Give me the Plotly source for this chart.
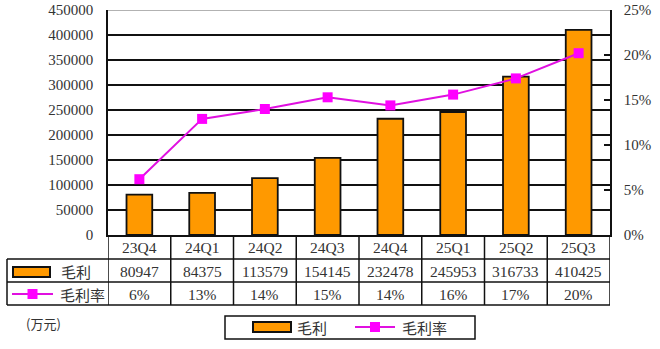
import plotly.graph_objects as go

# Quarterly gross profit (万元) and gross margin (%)
quarters = ["23Q4", "24Q1", "24Q2", "24Q3", "24Q4", "25Q1", "25Q2", "25Q3"]
gross_profit = [80947, 84375, 113579, 154145, 232478, 245953, 316733, 410425]
gross_margin = [6.2, 12.9, 14.0, 15.3, 14.4, 15.6, 17.4, 20.2]
left_ticks = [0, 50000, 100000, 150000, 200000, 250000, 300000, 350000, 400000, 450000]
right_ticks = [0, 5, 10, 15, 20, 25]

W, H = 660, 349
BAR_COLOR = "#FF9900"
LINE_COLOR = "#E010E0"
MARK_COLOR = "#FF00FF"
TXT = "#333333"
FONT = "Liberation Serif, Noto Sans CJK SC, serif"
CJK = "Noto Sans CJK SC, sans-serif"


def px(x):
    return x / W


def py(y):
    return 1 - y / H


fig = go.Figure()
fig.add_trace(go.Bar(
    x=quarters, y=gross_profit, name="毛利",
    marker=dict(color=BAR_COLOR, line=dict(color="#111111", width=1.8)),
    width=0.41, showlegend=False,
))
fig.add_trace(go.Scatter(
    x=quarters, y=gross_margin, name="毛利率", yaxis="y2", mode="lines+markers",
    line=dict(color=LINE_COLOR, width=2),
    marker=dict(symbol="square", size=10, color=MARK_COLOR),
    showlegend=False,
))

shapes = []
annotations = []
line_k = dict(color="#111111", width=1.5)


def label(x, y, text, xref="paper", xanchor="center", font=FONT, size=15.5):
    annotations.append(dict(x=x, xref=xref, y=y, yref="paper", text=text,
                            xanchor=xanchor, yanchor="middle", showarrow=False,
                            font=dict(family=font, size=size, color=TXT)))


# top border of the plot area
shapes.append(dict(type="line", xref="paper", yref="y", x0=px(108), x1=px(610),
                   y0=450000, y1=450000, line=dict(color="#999999", width=1.5)))

# data table grid
row_y = [235, 259, 282, 305]
for ry in row_y[1:]:
    shapes.append(dict(type="line", xref="paper", yref="paper", x0=px(7), x1=px(610),
                       y0=py(ry), y1=py(ry), line=line_k))
for i in range(len(quarters) + 1):
    shapes.append(dict(type="line", xref="x", yref="paper", x0=i - 0.5, x1=i - 0.5,
                       y0=py(235), y1=py(305), line=line_k))
shapes.append(dict(type="line", xref="paper", yref="paper", x0=px(7), x1=px(7),
                   y0=py(259), y1=py(305), line=line_k))

# table cells
for q, v, m in zip(quarters, gross_profit, gross_margin):
    label(q, py(247.5), q, xref="x")
    label(q, py(271), str(v), xref="x")
    label(q, py(294), f"{round(m)}%", xref="x")


def bar_icon(x0, x1, y0, y1):
    shapes.append(dict(type="rect", xref="paper", yref="paper", x0=px(x0), x1=px(x1),
                       y0=py(y1), y1=py(y0), fillcolor=BAR_COLOR,
                       line=dict(color="#111111", width=2)))


def line_icon(x0, x1, yc):
    shapes.append(dict(type="line", xref="paper", yref="paper", x0=px(x0), x1=px(x1),
                       y0=py(yc), y1=py(yc), line=dict(color=LINE_COLOR, width=2)))
    xc = (x0 + x1) / 2
    shapes.append(dict(type="rect", xref="paper", yref="paper", x0=px(xc - 5), x1=px(xc + 5),
                       y0=py(yc + 5), y1=py(yc - 5), fillcolor=MARK_COLOR,
                       line=dict(width=0)))


# row headers
bar_icon(13, 50, 267, 277)
label(px(59), py(271), "毛利", xanchor="left", font=CJK, size=15)
line_icon(12, 53, 294)
label(px(58), py(294), "毛利率", xanchor="left", font=CJK, size=15)

# unit note
label(px(24), py(323), "(万元)", xanchor="left", font=CJK, size=13)

# bottom legend
shapes.append(dict(type="rect", xref="paper", yref="paper", x0=px(225), x1=px(475),
                   y0=py(339), y1=py(316), line=dict(color="#111111", width=1.5)))
bar_icon(253, 291, 322, 332)
label(px(295), py(327), "毛利", xanchor="left", font=CJK, size=15)
line_icon(355, 395, 327)
label(px(400), py(327), "毛利率", xanchor="left", font=CJK, size=15)

fig.update_layout(
    width=W, height=H,
    margin=dict(l=0, r=0, t=0, b=0, pad=0, autoexpand=False),
    paper_bgcolor="white", plot_bgcolor="white",
    bargap=0.59,
    xaxis=dict(type="category", domain=[px(108), px(610)], range=[-0.5, 7.5],
               showticklabels=False, ticks="", showgrid=False, zeroline=False,
               showline=True, linecolor="#111111", linewidth=1.5,
               anchor="y", fixedrange=True, automargin=False),
    yaxis=dict(domain=[py(235), py(10)], range=[0, 450000], tickvals=left_ticks,
               ticktext=[str(t) for t in left_ticks],
               showgrid=True, gridcolor="#111111", gridwidth=1.5, zeroline=False,
               showline=True, linecolor="#111111", linewidth=1.5,
               ticks="", ticklabelstandoff=10, automargin=False,
               tickfont=dict(family=FONT, size=15, color=TXT)),
    yaxis2=dict(domain=[py(235), py(10)], range=[0, 25], overlaying="y", side="right",
                anchor="x", tickvals=right_ticks, ticktext=[f"{t}%" for t in right_ticks],
                showgrid=False, zeroline=False,
                showline=True, linecolor="#111111", linewidth=1.5,
                ticks="inside", ticklen=6, tickcolor="#111111", tickwidth=1.5,
                ticklabelstandoff=9, automargin=False,
                tickfont=dict(family=FONT, size=15, color=TXT)),
    shapes=shapes,
    annotations=annotations,
)

fig.write_html("out.html")
